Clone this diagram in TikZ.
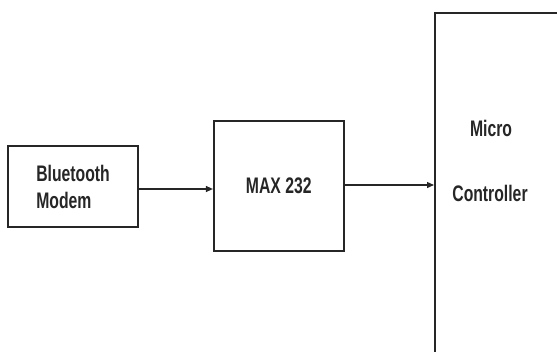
\documentclass[tikz,border=0pt]{standalone}
\usepackage{fontspec}
\setmainfont{Liberation Sans}[FakeStretch=0.7]
\usetikzlibrary{arrows.meta,positioning,calc}
\definecolor{blk}{HTML}{262626}

\begin{document}
\begin{tikzpicture}[x=1pt, y=-1pt, >={Triangle[length=7pt,width=6pt]},
  font=\bfseries\fontsize{22.5}{27}\selectfont,
  box/.style={draw=blk, line width=1.8pt, inner sep=0pt, text=blk},
  lbl/.style={text=blk, inner sep=0pt}]
\useasboundingbox (0,0) rectangle (557,351);
\clip (0,0) rectangle (557,351);
\node[box, minimum width=130pt, minimum height=81pt, align=left] (modem) at (73,186.5)
  {Bluetooth\\Modem\hspace*{7pt}};
\node[box, minimum width=130pt, minimum height=130pt, right=74pt of modem.east, anchor=west,
  yshift=0.5pt] (max) {MAX 232};
\node[box, minimum width=200pt, minimum height=400pt, anchor=north west] (mcu) at (434,12) {};
\node[lbl] (micro) at (491,128) {Micro};
\node[lbl] (ctrl) at (490,193) {Controller};
\draw[->, blk, line width=1.3pt] (modem.east |- 0,189) -- (max.west |- 0,189);
\draw[->, blk, line width=1.3pt] (max.east |- 0,185) -- (mcu.west |- 0,185);
\end{tikzpicture}
\end{document}
